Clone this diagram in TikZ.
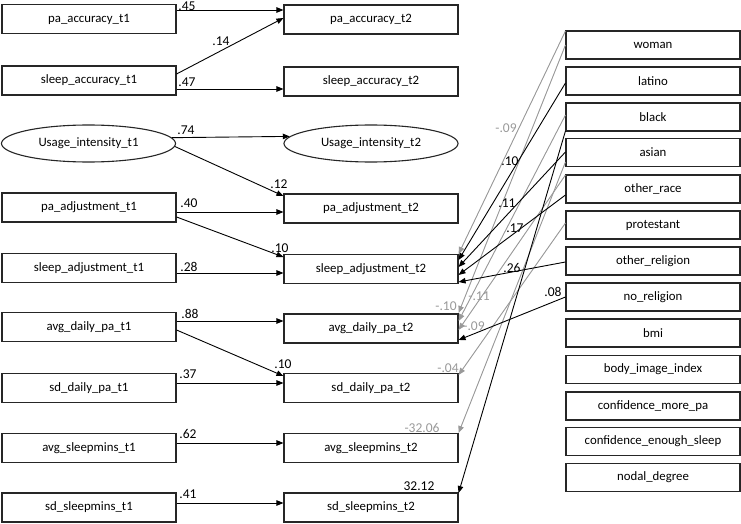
\documentclass[tikz,border=0pt]{standalone}
\usepackage{fontspec}
\setmainfont{Carlito}
\usetikzlibrary{arrows.meta,shapes.geometric}
\definecolor{lgray}{gray}{0.6}
\begin{document}
\begin{tikzpicture}[x=1pt,y=-1pt,
  txt/.style={font=\fontsize{12.8}{15}\selectfont},
  box/.style={txt,draw=black!85,line width=1.1pt,minimum width=174pt,minimum height=29pt,inner sep=0pt},
  rbox/.style={box,minimum height=28pt},
  oval/.style={txt,ellipse,draw=black!85,line width=1.1pt,minimum width=174pt,minimum height=37pt,inner sep=0pt},
  arr/.style={line width=0.9pt,-{Triangle[length=7pt,width=5.5pt]}},
  garr/.style={arr,draw=lgray,fill=lgray},
  lab/.style={font=\fontsize{13.5}{15}\selectfont,inner sep=0pt},
  glab/.style={lab,text=lgray}]
\useasboundingbox (0,0) rectangle (741,524);

% left column
\node[box]  (L1) at (89,19)    {pa\_accuracy\_t1};
\node[box]  (L2) at (89,80.5)  {sleep\_accuracy\_t1};
\node[oval] (L3) at (88.5,143.5) {Usage\_intensity\_t1};
\node[box]  (L4) at (89,207.5) {pa\_adjustment\_t1};
\node[box]  (L5) at (89,268)   {sleep\_adjustment\_t1};
\node[box]  (L6) at (89,327)   {avg\_daily\_pa\_t1};
\node[box]  (L7) at (89,388)   {sd\_daily\_pa\_t1};
\node[box]  (L8) at (89,448)   {avg\_sleepmins\_t1};
\node[box]  (L9) at (89,507.5) {sd\_sleepmins\_t1};

% middle column
\node[box]  (M1) at (371,19.5)  {pa\_accuracy\_t2};
\node[box]  (M2) at (371,81.5)  {sleep\_accuracy\_t2};
\node[oval] (M3) at (371,143.5) {Usage\_intensity\_t2};
\node[box]  (M4) at (371,208.5) {pa\_adjustment\_t2};
\node[box]  (M5) at (371,269)   {sleep\_adjustment\_t2};
\node[box]  (M6) at (371,328.5) {avg\_daily\_pa\_t2};
\node[box]  (M7) at (371,388)   {sd\_daily\_pa\_t2};
\node[box]  (M8) at (371,448)   {avg\_sleepmins\_t2};
\node[box]  (M9) at (371,507.5) {sd\_sleepmins\_t2};

% right column
\node[rbox] (R1)  at (653,45)    {woman};
\node[rbox] (R2)  at (653,81)    {latino};
\node[rbox] (R3)  at (653,117)   {black};
\node[rbox] (R4)  at (653,152.5) {asian};
\node[rbox] (R5)  at (653,189)   {other\_race};
\node[rbox] (R6)  at (653,225)   {protestant};
\node[rbox] (R7)  at (653,261)   {other\_religion};
\node[rbox] (R8)  at (653,297)   {no\_religion};
\node[rbox] (R9)  at (653,333)   {bmi};
\node[rbox] (R10) at (653,369.5) {body\_image\_index};
\node[rbox] (R11) at (653,406)   {confidence\_more\_pa};
\node[rbox] (R12) at (653,441.5) {confidence\_enough\_sleep};
\node[rbox] (R13) at (653,477.5) {nodal\_degree};

% left -> middle
\draw[arr] ([yshift=9pt]L1.east) -- ([yshift=9.5pt]M1.west);
\draw[arr] ([yshift=6.5pt]L2.east) -- ([yshift=1.5pt]M1.west);
\draw[arr] ([yshift=-8.5pt]L2.east) -- ([yshift=-7.5pt]M2.west);
\draw[arr] (L3.4) -- (M3.175.4);
\draw[arr] (L3.-2.5) -- ([yshift=12.5pt]M4.west);
\draw[arr] ([yshift=-4.5pt]L4.east) -- ([yshift=-3.5pt]M4.west);
\draw[arr] ([yshift=-9.5pt]L4.east) -- ([yshift=12pt]M5.west);
\draw[arr] ([yshift=-5pt]L5.east) -- ([yshift=-4pt]M5.west);
\draw[arr] ([yshift=6pt]L6.east) -- ([yshift=7.5pt]M6.west);
\draw[arr] ([yshift=-3pt]L6.east) -- ([yshift=12pt]M7.west);
\draw[arr] ([yshift=5pt]L7.east) -- ([yshift=5pt]M7.west);
\draw[arr] ([yshift=5pt]L8.east) -- ([yshift=5pt]M8.west);
\draw[arr] ([yshift=4.5pt]L9.east) -- ([yshift=4.5pt]M9.west);

% right -> middle (gray)
\draw[garr] ([yshift=14pt]R1.west) -- ([yshift=15pt]M5.east);
\draw[garr] (R1.west) -- ([yshift=15.5pt]M6.east);
\draw[garr] ([yshift=2pt]R3.west) -- ([yshift=7.5pt]M6.east);
\draw[garr] ([yshift=14pt]R5.west) -- ([yshift=-1.5pt]M6.east);
\draw[garr] ([yshift=2pt]R6.west) -- ([yshift=13pt]M7.east);
\draw[garr] ([yshift=-9.5pt]R4.west) -- ([yshift=15pt]M8.east);
% right -> middle (black)
\draw[arr] ([yshift=-2pt]R2.west) -- ([yshift=9pt]M5.east);
\draw[arr] ([yshift=0.5pt]R4.west) -- ([yshift=2pt]M5.east);
\draw[arr] ([yshift=-6pt]R5.west) -- ([yshift=-6pt]M5.east);
\draw[arr] ([yshift=-1pt]R7.west) -- ([yshift=-13pt]M5.east);
\draw[arr] (R8.west) -- ([yshift=-11.5pt]M6.east);
\draw[arr] ([yshift=-14pt]R3.west) -- ([yshift=14.5pt]M9.east);

% coefficient labels
\node[lab] (c1)  at (187,6)   {.45};
\node[lab] (c2)  at (221,41)  {.14};
\node[lab] (c3)  at (187,82)  {.47};
\node[lab] (c4)  at (186,130) {.74};
\node[lab] (c5)  at (279,184) {.12};
\node[lab] (c6)  at (189,203) {.40};
\node[lab] (c7)  at (280,248) {.10};
\node[lab] (c8)  at (189,267) {.28};
\node[lab] (c9)  at (190,314) {.88};
\node[lab] (c10) at (283,364) {.10};
\node[lab] (c11) at (188,374) {.37};
\node[lab] (c12) at (188,434) {.62};
\node[lab] (c13) at (188,494) {.41};

\node[glab] (g1) at (506,128) {-.09};
\node[lab]  (b1) at (510,161) {.10};
\node[lab]  (b2) at (507,203) {.11};
\node[lab]  (b3) at (515,228) {.17};
\node[lab]  (b4) at (512,268) {.26};
\node[glab] (g2) at (446,306) {-.10};
\node[glab] (g3) at (479,296) {-.11};
\node[glab] (g4) at (474,326) {-.09};
\node[lab]  (b5) at (553,292) {.08};
\node[glab] (g5) at (448,368) {-.04};
\node[glab] (g6) at (422,428) {-32.06};
\node[lab]  (b6) at (419,486) {32.12};
\end{tikzpicture}
\end{document}
